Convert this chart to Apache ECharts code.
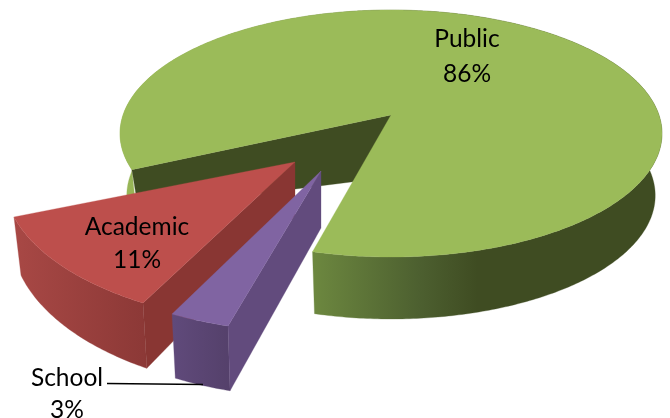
<!DOCTYPE html>
<html><head><meta charset="utf-8">
<style>html,body{margin:0;padding:0;background:#fff}#c{width:670px;height:418px}</style>
<script src="https://cdn.jsdelivr.net/npm/echarts@6/dist/echarts.min.js"></script>
</head><body><div id="c"></div>
<script>
// Data (drawn back to front, running counter-clockwise round the pie)
const categories = ['Public', 'Academic', 'School'];
const shares = [86, 11, 3];

// 3D view of the pie
const rim = {cx: 391, cy: 133.5, rx: 271, ry: 123.5, tilt: 0.15};
const startAngle = 194.5;
const G = echarts.graphic.LinearGradient;
const look = {
  Public: {move: [0, 0], m: [1, 0, 0, 1], drop: 62, sx: .975, sy: 1.0, wallEdge: 'from', wallSy: .58,
    top: '#9bbb59', wall: '#3f4c22',
    rimFill: new G(120, 0, 662, 0, [{offset: 0, color: '#9ab858'}, {offset: .36, color: '#6c873f'}, {offset: .55, color: '#4d6030'}, {offset: .66, color: '#3f4c22'}, {offset: 1, color: '#3f4c22'}], true),
    text: [467, 57], lh: 35},
  Academic: {move: [-96, 47], m: [1.0667, -.0845, .0303, 1.1491], drop: 54, sx: .975, sy: 1.08, wallEdge: 'from',
    top: '#bd4f4c', wall: '#893633',
    rimFill: new G(14, 0, 150, 0, [{offset: 0, color: '#a84845'}, {offset: 1, color: '#8b3836'}], true),
    text: [137, 244], lh: 33},
  School: {move: [-70, 56], m: [1.0518, -.0763, .0016, 1.1348], drop: 57, sx: .978, sy: 1.05, wallEdge: 'from',
    top: '#8064a2', wall: '#624b7d',
    rimFill: new G(172, 0, 232, 0, [{offset: 0, color: '#604a7b'}, {offset: 1, color: '#54406a'}], true),
    text: [67, 394], lh: 32, leader: [[107, 383.5], [203, 384.5]]}
};

const rad = d => d * Math.PI / 180;
function base(theta) {
  const x = Math.sin(rad(theta)), y = -Math.cos(rad(theta));
  const k = 1 - rim.tilt * y, q = Math.sqrt(1 - rim.tilt * rim.tilt);
  return [rim.cx + rim.rx * x * q / k, rim.cy + rim.ry * (y - rim.tilt) / k];
}
const apex0 = [rim.cx, rim.cy - rim.ry * rim.tilt];
function apexOf(s) { return [apex0[0] + s.move[0], apex0[1] + s.move[1]]; }
function upper(s, theta) {
  const b = base(theta), dx = b[0] - apex0[0], dy = b[1] - apex0[1], a = apexOf(s);
  return [a[0] + s.m[0] * dx + s.m[1] * dy, a[1] + s.m[2] * dx + s.m[3] * dy];
}
function lower(s, theta, syOverride) {
  const u = upper(s, theta), a = apexOf(s);
  return [a[0] + s.sx * (u[0] - a[0]), a[1] + s.drop + (syOverride || s.sy) * (u[1] - a[1])];
}
function arc(fn, s, a0, a1) {
  const pts = [], n = Math.max(2, Math.ceil(Math.abs(a1 - a0) * 1.5));
  for (let i = 0; i <= n; i++) pts.push(fn(s, a0 + (a1 - a0) * i / n));
  return pts;
}

const total = shares.reduce((a, b) => a + b, 0);
const spans = [];
let cursor = startAngle;
shares.forEach(v => { const next = cursor - v / total * 360; spans.push([next, cursor]); cursor = next < 0 ? next + 360 : next; });

const poly = (points, fill) => ({type: 'polygon', shape: {points}, style: {fill, stroke: fill, lineWidth: .3}});

function renderItem(params, api) {
  const i = params.dataIndex, name = categories[i], s = look[name], [a0, a1] = spans[i];
  const ap = apexOf(s), apLow = [ap[0], ap[1] + s.drop];
  const topRim = arc(upper, s, a0, a1);
  const lowRim = arc(lower, s, a0, a1).reverse();
  const edge = s.wallEdge === 'from' ? a0 : a1;
  const kids = [
    poly(topRim.concat(lowRim), s.rimFill),
    poly([ap, upper(s, edge), lower(s, edge, s.wallSy), apLow], s.wall),
    poly([ap].concat(topRim), s.top)
  ];
  if (s.leader) kids.push({type: 'line', shape: {x1: s.leader[0][0], y1: s.leader[0][1], x2: s.leader[1][0], y2: s.leader[1][1]}, style: {stroke: '#000', lineWidth: 1.5}});
  kids.push({type: 'text', style: {
    x: s.text[0], y: s.text[1], text: name + '\n' + api.value(0) + '%',
    font: '24.5px Lato', lineHeight: s.lh, fill: '#000', align: 'center', verticalAlign: 'middle'
  }, z2: 10});
  return {type: 'group', children: kids};
}

const chart = echarts.init(document.getElementById('c'), null, {renderer: 'canvas'});
chart.setOption({
  animation: false,
  backgroundColor: '#fff',
  series: [{
    type: 'custom',
    coordinateSystem: 'none',
    renderItem,
    data: shares.map((v, i) => ({name: categories[i], value: [v]})),
    clip: false
  }]
});
</script></body></html>
